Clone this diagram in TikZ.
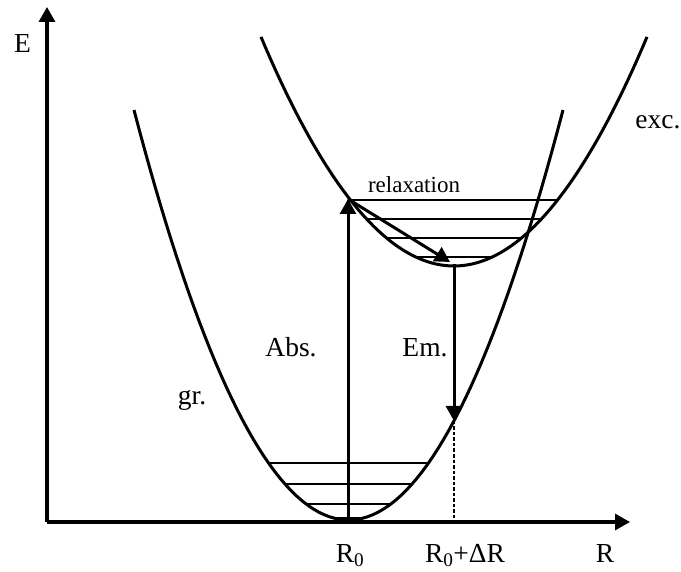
\documentclass[tikz,border=0pt]{standalone}
\usepackage{fontspec}
\setmainfont{Liberation Serif}
\usetikzlibrary{arrows.meta}

\tikzset{
  axe/.style={line width=3.2pt, -{Triangle[width=16pt,length=15pt]}},
  courbe/.style={line width=3pt},
  niveau/.style={line width=2.6pt},
  fleche/.style={line width=3pt, -{Triangle[width=16pt,length=15pt]}},
  lbl/.style={font=\fontsize{27.5}{30}\selectfont, anchor=base, inner sep=0pt},
}

\begin{document}
\begin{tikzpicture}[x=1pt, y=-1pt]
\useasboundingbox (0,0) rectangle (681,572);
% minima des deux courbes (coordonnees en pixels, y vers le bas)
\def\gx{348.5} \def\gy{520} \def\gk{89.1}
\def\ex{454} \def\ey{266} \def\ek{61.5}

% axes
\coordinate (o) at (47,522);
\coordinate (ytop) at (47,7);
\coordinate (xend) at (630,522);
\draw[axe] (o) -- (ytop);
\draw[axe] (o) -- (xend);

% courbe fondamentale et courbe excitee
\draw[courbe] plot[domain=134:563, samples=80] (\x, {\gy-\gk*((\x-\gx)/100)*((\x-\gx)/100)});
\draw[courbe] plot[domain=261:647, samples=80] (\x, {\ey-\ek*((\x-\ex)/100)*((\x-\ex)/100)});

% niveaux vibrationnels
\foreach \ly in {463,484,504,518} {
  \pgfmathsetmacro\dx{100*sqrt((\gy-\ly)/\gk)}
  \draw[niveau] (\gx-\dx,\ly) -- (\gx+\dx,\ly);
}
\foreach \ly in {200,219,238,257} {
  \pgfmathsetmacro\dx{100*sqrt((\ey-\ly)/\ek)}
  \draw[niveau] (\ex-\dx,\ly) -- (\ex+\dx,\ly);
}

% transitions
\coordinate (g0) at (348,521);
\coordinate (a0) at (348,199);
\coordinate (e0) at (450,262);
\coordinate (e1) at (454,264);
\coordinate (e2) at (454,421);
\coordinate (r1) at (454,522);
\draw[fleche] (g0) -- (a0);
\draw[fleche] (a0) -- (e0);
\draw[fleche] (e1) -- (e2);
\draw[line width=2.6pt, dash pattern=on 3.5pt off 2pt] (e2) -- (r1);

% textes
\node[lbl] (E) at (22.5,53) {E};
\node[lbl] (R) at (605,562) {R};
\node[lbl] (R0) at (350,562) {R\textsubscript{0}};
\node[lbl] (R0dR) at (465,562) {R\textsubscript{0}+ΔR};
\node[lbl] (abs) at (291,357) {Abs.};
\node[lbl] (em) at (425,357) {Em.};
\node[lbl] (gr) at (192,405) {gr.};
\node[lbl] (exc) at (658,129) {exc.};
\node[lbl, font=\fontsize{23}{26}\selectfont] (relax) at (414,193) {relaxation};
\end{tikzpicture}
\end{document}
